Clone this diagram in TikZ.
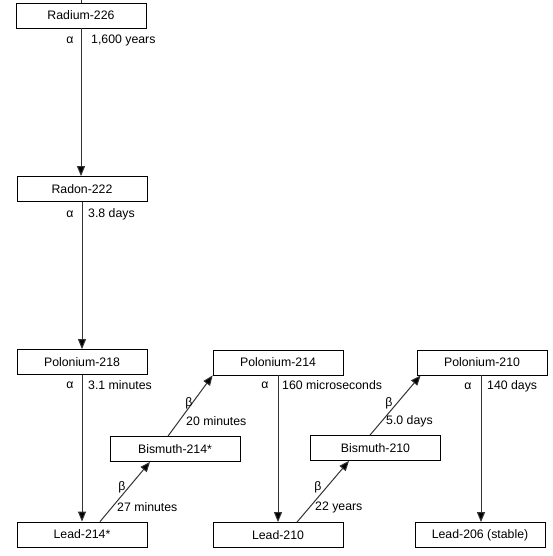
\documentclass[tikz,border=0pt]{standalone}
\usepackage{fontspec}
\setmainfont{Liberation Sans}
\usetikzlibrary{arrows.meta}
\begin{document}
\begin{tikzpicture}[x=1pt,y=-1pt,
  iso/.style={draw=black,line width=0.8pt,minimum width=130pt,minimum height=25pt,inner sep=0pt,font=\fontsize{12.3}{14}\selectfont},
  lbl/.style={inner sep=0pt,font=\fontsize{12.3}{14}\selectfont},
  decay/.style={draw=black!80,line width=1pt,-{Triangle[length=10pt,width=8pt,fill=black]}},
  plain/.style={draw=black!80,line width=1pt}]
\useasboundingbox (0,0) rectangle (553,556);
\fill[white] (0,0) rectangle (553,556);
\node[iso] (ra) at (81,15.5) {Radium-226};
\node[iso] (rn) at (82,189) {Radon-222};
\node[iso] (po218) at (82,362) {Polonium-218};
\node[iso] (pb214) at (82,534.5) {Lead-214*};
\node[iso] (bi214) at (175,449) {Bismuth-214*};
\node[iso] (po214) at (278,362.5) {Polonium-214};
\node[iso] (pb210) at (278,535) {Lead-210};
\node[iso] (bi210) at (375.5,448) {Bismuth-210};
\node[iso] (po210) at (482,362.5) {Polonium-210};
\node[iso] (pb206) at (480,535) {Lead-206 (stable)};
\coordinate (top) at (81,0);
\draw[plain] (top) -- (ra.north);
% alpha decays
\draw[decay] (ra.south) -- (ra.south |- rn.north);
\draw[decay] (rn.south) -- (rn.south |- po218.north);
\draw[decay] (po218.south) -- (po218.south |- pb214.north);
\draw[decay] (po214.south) -- (po214.south |- pb210.north);
\draw[decay] ([xshift=-1pt]po210.south) -- ([xshift=-1pt]po210.south |- pb206.north);
% beta decays
\draw[decay] ([xshift=18pt]pb214.north) -- ([xshift=-25pt]bi214.south);
\draw[decay] ([xshift=-7pt]bi214.north) -- (po214.south west);
\draw[decay] ([xshift=19pt]pb210.north) -- ([xshift=-26.5pt]bi210.south);
\draw[decay] ([xshift=-5.5pt]bi210.north) -- ([xshift=4pt]po210.south west);
% labels
\node[lbl] (a1) at (70,40) {α};
\node[lbl,anchor=west] (t1) at (91,40) {1,600 years};
\node[lbl] (a2) at (70,214) {α};
\node[lbl,anchor=west] (t2) at (88,214) {3.8 days};
\node[lbl] (a3) at (70,385) {α};
\node[lbl,anchor=west] (t3) at (88,385) {3.1 minutes};
\node[lbl] (a4) at (265,385) {α};
\node[lbl,anchor=west] (t4) at (282,385) {160 microseconds};
\node[lbl] (a5) at (468,386) {α};
\node[lbl,anchor=west] (t5) at (487,386) {140 days};
\node[lbl] (b1) at (122,487) {β};
\node[lbl,anchor=west] (s1) at (117,507) {27 minutes};
\node[lbl] (b2) at (189,403) {β};
\node[lbl,anchor=west] (s2) at (186,421) {20 minutes};
\node[lbl] (b3) at (318,487) {β};
\node[lbl,anchor=west] (s3) at (315,507) {22 years};
\node[lbl] (b4) at (389,403) {β};
\node[lbl,anchor=west] (s4) at (386,421) {5.0 days};
\end{tikzpicture}
\end{document}
